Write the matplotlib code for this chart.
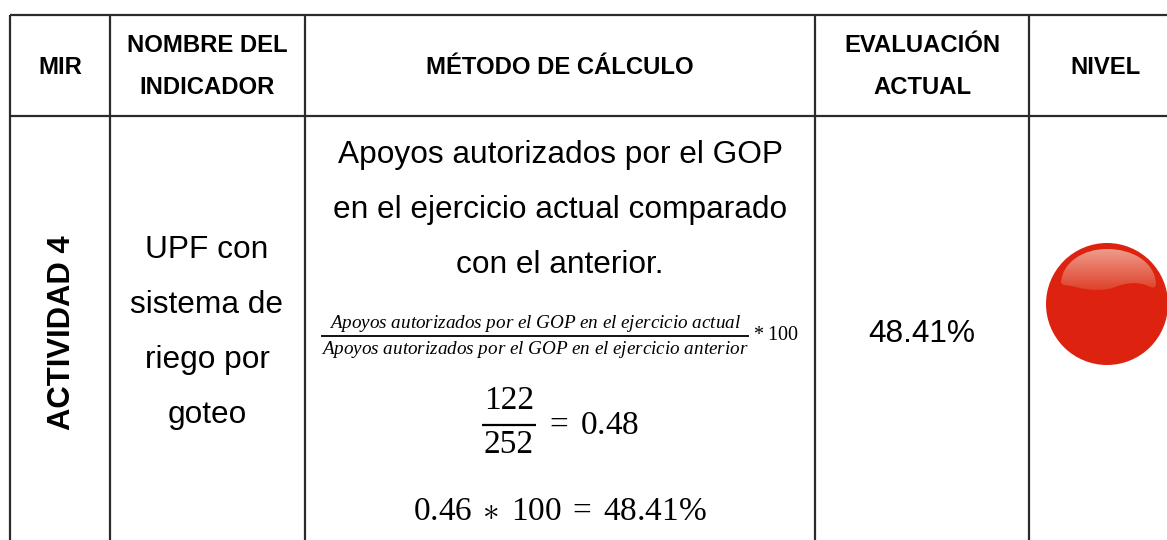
import numpy as np
import matplotlib
matplotlib.use("Agg")
import matplotlib.pyplot as plt
from matplotlib.patches import Circle, PathPatch
from matplotlib.path import Path

# contenido de la tabla
headers = ["MIR", "NOMBRE DEL\nINDICADOR", "MÉTODO DE CÁLCULO", "EVALUACIÓN\nACTUAL", "NIVEL"]
actividad = "ACTIVIDAD 4"
indicador = ["UPF con", "sistema de", "riego por", "goteo"]
metodo = ["Apoyos autorizados por el GOP", "en el ejercicio actual comparado", "con el anterior."]
frac_num = "Apoyos autorizados por el GOP en el ejercicio actual"
frac_den = "Apoyos autorizados por el GOP en el ejercicio anterior"
numerador = 122
denominador = 252
cociente = "0.48"
resultado = "0.46 * 100 = 48.41%"
evaluacion = "48.41%"

W, H = 1167, 540
plt.rcParams["font.family"] = ["Liberation Sans", "DejaVu Sans"]
plt.rcParams["mathtext.fontset"] = "custom"
plt.rcParams["mathtext.rm"] = "Liberation Serif"
plt.rcParams["mathtext.it"] = "Liberation Serif:italic"

fig = plt.figure(figsize=(W / 100, H / 100), dpi=100)
ax = fig.add_axes([0, 0, 1, 1])
ax.set_xlim(0, W)
ax.set_ylim(H, 0)
ax.axis("off")

# lineas de la tabla
line_c = "#2b2b2b"
col_x = [10, 110, 305, 815, 1029]
for x in col_x:
    ax.plot([x, x], [15, H], color=line_c, lw=1.6, solid_capstyle="butt")
for y in [15, 116]:
    ax.plot([10, W], [y, y], color=line_c, lw=1.6, solid_capstyle="butt")

# encabezados
head_x = [60, 207, 560, 922, 1105]
for x, h in zip(head_x, headers):
    if "\n" in h:
        a, b = h.split("\n")
        ax.text(x, 46, a, ha="center", va="center", fontsize=17.2, fontweight="bold")
        ax.text(x, 88, b, ha="center", va="center", fontsize=17.2, fontweight="bold")
    else:
        ax.text(x, 67, h, ha="center", va="center", fontsize=17.2, fontweight="bold")

# columnas de texto
ax.text(62, 333, actividad, rotation=90, ha="center", va="center", fontsize=22.3, fontweight="bold")
for y, t in zip([250, 305, 360, 415], indicador):
    ax.text(207, y, t, ha="center", va="center", fontsize=22.8)
for y, t in zip([155, 210, 265], metodo):
    ax.text(560, y, t, ha="center", va="center", fontsize=22.8)
ax.text(922, 334, evaluacion, ha="center", va="center", fontsize=22.8)

# formulas
ax.text(535, 323, "$\\mathit{" + frac_num.replace(" ", "\\ ") + "}$", ha="center", va="center", fontsize=13.8)
ax.plot([321, 749], [335.5, 335.5], color="black", lw=1.3, solid_capstyle="butt")
ax.text(535, 349, "$\\mathit{" + frac_den.replace(" ", "\\ ") + "}$", ha="center", va="center", fontsize=13.8)
ax.text(753, 335, "$* \\; 100$", ha="left", va="center", fontsize=14.5)

ax.text(509, 401, str(numerador), ha="center", va="center", fontsize=24, family="Liberation Serif")
ax.plot([482, 536], [424.5, 424.5], color="black", lw=1.6, solid_capstyle="butt")
ax.text(509, 445, str(denominador), ha="center", va="center", fontsize=24, family="Liberation Serif")
ax.text(545, 425, "$= \\; " + cociente + "$", ha="left", va="center", fontsize=24)
ax.text(560, 512, "$" + resultado.replace("*", "\\ast").replace("%", "\\%").replace(" ", "\\;") + "$",
        ha="center", va="center", fontsize=24)

# semaforo rojo
ball = Circle((1107, 304), 61, facecolor="#dd2310", edgecolor="none", zorder=3)
ax.add_patch(ball)

hl_verts = [(1061, 282), (1063, 262), (1083, 249), (1107, 249), (1133, 249), (1154, 262), (1156, 283),
            (1156, 289), (1152, 288), (1148, 286), (1140, 282), (1128, 282), (1115, 287),
            (1105, 291), (1090, 291), (1076, 287), (1069, 285), (1061, 286), (1061, 282)]
hl_codes = [Path.MOVETO] + [Path.CURVE4] * 18
hl_patch = PathPatch(Path(hl_verts, hl_codes), facecolor="none", edgecolor="none", zorder=4)
ax.add_patch(hl_patch)
grad = np.linspace(0, 1, 64).reshape(-1, 1)
top = np.array([0.93, 0.62, 0.55])
bot = np.array([0.87, 0.24, 0.15])
img = (top + (bot - top) * grad[..., None]).reshape(64, 1, 3)
im = ax.imshow(img, extent=(1058, 1158, 292, 248), aspect="auto", zorder=4)
im.set_clip_path(hl_patch)
ax.set_xlim(0, W)
ax.set_ylim(H, 0)

fig.savefig("out.png", dpi=100, facecolor="white")
